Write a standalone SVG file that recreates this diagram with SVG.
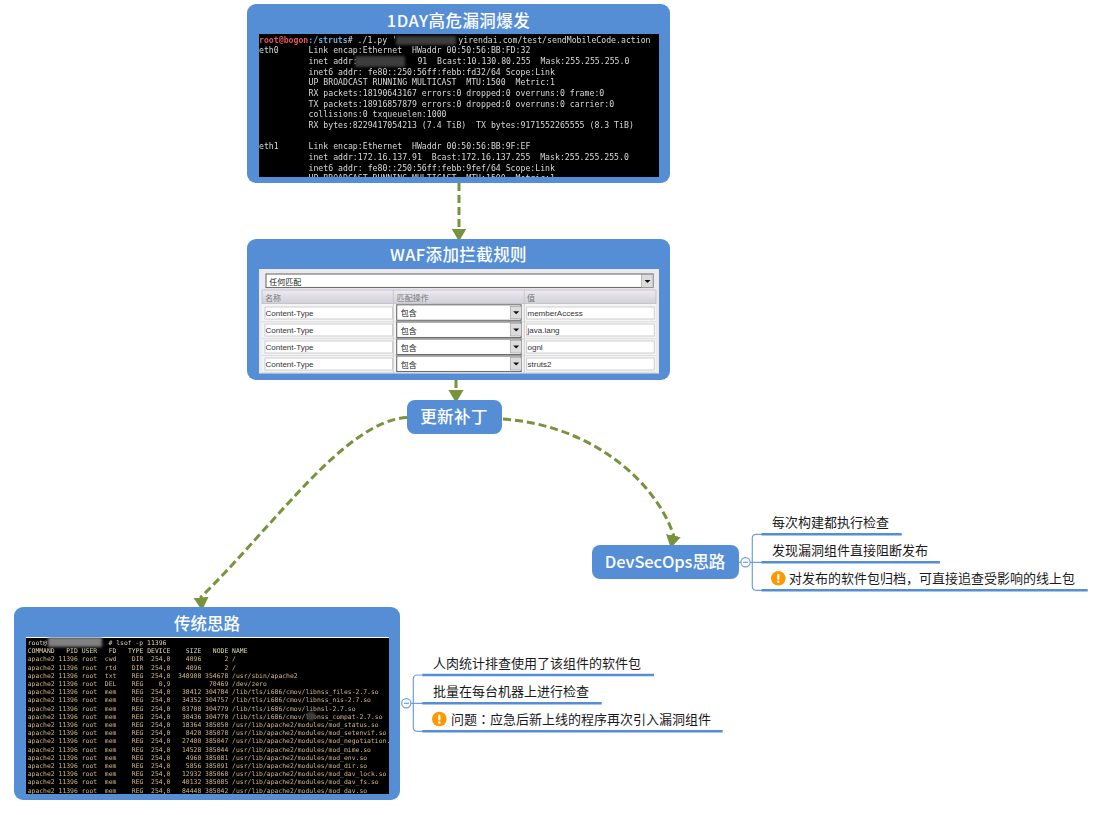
<svg xmlns="http://www.w3.org/2000/svg" width="1103" height="815" viewBox="0 0 1103 815">
<style>
.box{fill:#558ed5}
.title{font-family:"Noto Sans CJK SC","Liberation Sans",sans-serif;font-size:16.5px;font-weight:500;fill:#fff;text-anchor:middle}
.child{font-family:"Noto Sans CJK SC","Liberation Sans",sans-serif;font-size:13px;fill:#1a1a1a}
.ul{stroke:#558ed5;stroke-width:2.6;fill:none}
.br{stroke:#6f9fdc;stroke-width:1.2;fill:none}
.fold{stroke:#6f9fdc;stroke-width:1.2;fill:#fff}
.conn{stroke:#77933c;stroke-width:3;stroke-dasharray:8 4;fill:none;marker-end:url(#arrow)}
.t1{font-family:"DejaVu Sans Mono","Liberation Mono",monospace;font-size:8.2px;fill:#d8d8d8;white-space:pre}
.t2{font-family:"DejaVu Sans Mono","Liberation Mono",monospace;font-size:6.42px;fill:#d2b688;white-space:pre}
.w{font-family:"Liberation Sans","Noto Sans CJK SC",sans-serif;font-size:8px;fill:#333}
.wh{font-family:"Noto Sans CJK SC","Liberation Sans",sans-serif;font-size:8px;fill:#777}
.wc{font-family:"Noto Sans CJK SC","Liberation Sans",sans-serif;font-size:8px;fill:#222}
.inp{fill:#fff;stroke:#c4c4c4;stroke-width:.8}
.sel{fill:#fff;stroke:#6e6e6e;stroke-width:1.1}
.btn{fill:#dcdcdc;stroke:#888;stroke-width:.5}
.tri{fill:#111}
.smear{fill:#3c3c3c;filter:url(#soft)}
.shot{filter:url(#raster)}
</style>
<defs>
<marker id="arrow" markerUnits="userSpaceOnUse" markerWidth="15" markerHeight="16" refX="0.5" refY="7.5" orient="auto">
<path d="M0 0L13 7.5L0 15Z" fill="#77933c"/>
</marker>
<filter id="soft" x="-30%" y="-60%" width="160%" height="220%"><feGaussianBlur stdDeviation="1.6"/></filter>
<filter id="raster" x="0" y="0" width="100%" height="100%"><feGaussianBlur stdDeviation="0.22"/></filter>
<linearGradient id="hd" x1="0" y1="0" x2="0" y2="1"><stop offset="0" stop-color="#efeaf2"/><stop offset="1" stop-color="#cfcfd6"/></linearGradient>
<clipPath id="c1"><rect x="259" y="34" width="400" height="143"/></clipPath>
<clipPath id="c3"><rect x="26" y="637" width="363" height="157"/></clipPath>
<g id="warn"><circle r="7.3" fill="#ff9800"/><rect x="-1.1" y="-4.6" width="2.2" height="6" rx="1" fill="#fff"/><circle cy="3.5" r="1.2" fill="#fff"/></g>
<g id="combo"><rect class="btn" x="113.5" y="1.5" width="11.5" height="12.5"/><path class="tri" d="M116.5 6.5h6l-3 3z"/></g>
</defs>

<g id="connectors">
<path class="conn" d="M459 183V229"/>
<path class="conn" d="M456 380V390.5"/>
<path class="conn" d="M407 417.5C345 421 275 525 201 597L201.08 598"/>
<path class="conn" d="M503 419C590 425 655 480 673.5 535L673.3 536"/>
<path class="br" d="M739 562.3H741"/>
<path class="br" d="M750 562.3H762M762 534.3H756.3Q752.3 534.3 752.3 538.3V586.3Q752.3 590.3 756.3 590.3H762"/>
<path class="br" d="M411 703.3H423M423 675H417.3Q413.3 675 413.3 679V727.3Q413.3 731.3 417.3 731.3H423"/>
</g>

<g id="node-1day">
<rect class="box" x="247" y="4" width="423" height="179" rx="9"/>
<text class="title" x="458.5" y="27" letter-spacing=".45">1DAY高危漏洞爆发</text>
<rect x="259" y="34" width="400" height="143" fill="#000"/>
<g clip-path="url(#c1)"><g class="shot">
<text class="t1" x="259" y="42.8"><tspan fill="#e0565b" font-weight="700">root@bogon</tspan><tspan fill="#6aa9d6" font-weight="700">:/struts</tspan># ./1.py '<tspan x="458.3">yirendai.com/test/sendMobileCode.action</tspan></text>
<text class="t1" x="259" y="53.45">eth0<tspan x="308.5">Link encap:Ethernet  HWaddr 00:50:56:BB:FD:32</tspan></text>
<text class="t1" x="308.5" y="64.1">inet addr:<tspan x="417.4">91  Bcast:10.130.80.255  Mask:255.255.255.0</tspan></text>
<text class="t1" x="308.5" y="74.75">inet6 addr: fe80::250:56ff:febb:fd32/64 Scope:Link</text>
<text class="t1" x="308.5" y="85.4">UP BROADCAST RUNNING MULTICAST  MTU:1500  Metric:1</text>
<text class="t1" x="308.5" y="96.05">RX packets:18190643167 errors:0 dropped:0 overruns:0 frame:0</text>
<text class="t1" x="308.5" y="106.7">TX packets:18916857879 errors:0 dropped:0 overruns:0 carrier:0</text>
<text class="t1" x="308.5" y="117.35">collisions:0 txqueuelen:1000</text>
<text class="t1" x="308.5" y="128">RX bytes:8229417054213 (7.4 TiB)  TX bytes:9171552265555 (8.3 TiB)</text>
<text class="t1" x="259" y="149.3">eth1<tspan x="308.5">Link encap:Ethernet  HWaddr 00:50:56:BB:9F:EF</tspan></text>
<text class="t1" x="308.5" y="159.95">inet addr:172.16.137.91  Bcast:172.16.137.255  Mask:255.255.255.0</text>
<text class="t1" x="308.5" y="170.6">inet6 addr: fe80::250:56ff:febb:9fef/64 Scope:Link</text>
<text class="t1" x="308.5" y="181.25">UP BROADCAST RUNNING MULTICAST  MTU:1500  Metric:1</text>
</g>
<rect class="smear" x="396" y="36" width="60" height="9"/>
<rect class="smear" x="355" y="56" width="50" height="11"/>
</g>
</g>

<g id="node-waf">
<rect class="box" x="247" y="239" width="423" height="141" rx="9"/>
<text class="title" x="458.5" y="261" letter-spacing=".4">WAF添加拦截规则</text>
<rect x="259" y="269" width="400" height="104.5" fill="#ede9f1"/>
<rect class="sel" x="266" y="274" width="387" height="13.5"/>
<rect class="btn" x="641.5" y="274.5" width="11.5" height="13"/><path class="tri" d="M644.5 280h6l-3 3z"/>
<text class="wc" x="269.3" y="284.5">任何匹配</text>
<rect x="262" y="290" width="394" height="14" fill="url(#hd)" stroke="#b5b5bd" stroke-width=".7"/>
<path d="M393.3 290V373M524.3 290V373" stroke="#c2c2c8" stroke-width=".8"/>
<text class="wh" x="265" y="301">名称</text>
<text class="wh" x="396.7" y="301">匹配操作</text>
<text class="wh" x="527" y="301">值</text>
<rect x="262" y="304" width="394" height="68.5" fill="#f4f4f4"/>
<path d="M393.3 304V372.5M524.3 304V372.5" stroke="#c2c2c8" stroke-width=".8"/>
<path d="M262 321.7H656M262 338.7H656M262 355.5H656M262 372.3H656" stroke="#d6d6da" stroke-width=".8"/>

<rect class="inp" x="265" y="307" width="127.5" height="12"/><text class="w" x="265.5" y="316">Content-Type</text>
<g transform="translate(396.7 304.8)"><rect class="sel" width="124.5" height="15.5"/><use href="#combo"/><text class="wc" x="4" y="11.5">包含</text></g>
<rect class="inp" x="526.7" y="307" width="127.5" height="12"/><text class="w" x="527.5" y="316">memberAccess</text>

<rect class="inp" x="265" y="324" width="127.5" height="12"/><text class="w" x="265.5" y="333">Content-Type</text>
<g transform="translate(396.7 322)"><rect class="sel" width="124.5" height="15.5"/><use href="#combo"/><text class="wc" x="4" y="11.5">包含</text></g>
<rect class="inp" x="526.7" y="324" width="127.5" height="12"/><text class="w" x="527.5" y="333">java.lang</text>

<rect class="inp" x="265" y="341" width="127.5" height="12"/><text class="w" x="265.5" y="350">Content-Type</text>
<g transform="translate(396.7 339)"><rect class="sel" width="124.5" height="15.5"/><use href="#combo"/><text class="wc" x="4" y="11.5">包含</text></g>
<rect class="inp" x="526.7" y="341" width="127.5" height="12"/><text class="w" x="527.5" y="350">ognl</text>

<rect class="inp" x="265" y="358" width="127.5" height="12"/><text class="w" x="265.5" y="367">Content-Type</text>
<g transform="translate(396.7 356)"><rect class="sel" width="124.5" height="15.5"/><use href="#combo"/><text class="wc" x="4" y="11.5">包含</text></g>
<rect class="inp" x="526.7" y="358" width="127.5" height="12"/><text class="w" x="527.5" y="367">struts2</text>
</g>

<g id="node-patch">
<rect class="box" x="407" y="400" width="95" height="34" rx="8"/>
<text class="title" x="454" y="423" letter-spacing=".4">更新补丁</text>
</g>

<g id="node-devsecops">
<rect class="box" x="592" y="545" width="147" height="34" rx="8"/>
<text class="title" x="665" y="568" letter-spacing="-.1">DevSecOps思路</text>
<circle class="fold" cx="745.5" cy="562.3" r="4.6"/><path class="br" d="M743 562.3H748"/>
</g>
<g id="dev-child-1"><text class="child" x="772" y="527">每次构建都执行检查</text><path class="ul" d="M761.5 534.3H901.7"/></g>
<g id="dev-child-2"><text class="child" x="772" y="555">发现漏洞组件直接阻断发布</text><path class="ul" d="M761.5 562.3H940"/></g>
<g id="dev-child-3"><use href="#warn" x="778.3" y="578.3"/><text class="child" x="789" y="583">对发布的软件包归档，可直接追查受影响的线上包</text><path class="ul" d="M761.5 590.3H1087.7"/></g>

<g id="node-traditional">
<rect class="box" x="14" y="607" width="386" height="193" rx="9"/>
<text class="title" x="207" y="630">传统思路</text>
<rect x="26" y="637" width="363" height="157" fill="#000"/>
<g clip-path="url(#c3)"><g class="shot">
<path d="M26 637.4H389" stroke="#fff" stroke-width="1.2"/>
<text class="t2" x="27.7" y="645" style="fill:#d8d0c0">root@<tspan x="108.5"># lsof -p 11396</tspan></text>
<text class="t2" x="27.7" y="653.2" style="fill:#e4d6b4">COMMAND   PID USER   FD   TYPE DEVICE    SIZE   NODE NAME</text>
<text class="t2" x="27.7" y="661.4">apache2 11396 root  cwd    DIR  254,0    4096      2 /</text>
<text class="t2" x="27.7" y="669.6">apache2 11396 root  rtd    DIR  254,0    4096      2 /</text>
<text class="t2" x="27.7" y="677.8">apache2 11396 root  txt    REG  254,0  348908 354678 /usr/sbin/apache2</text>
<text class="t2" x="27.7" y="686">apache2 11396 root  DEL    REG    0,9          70469 /dev/zero</text>
<text class="t2" x="27.7" y="694.2">apache2 11396 root  mem    REG  254,0   38412 304784 /lib/tls/i686/cmov/libnss_files-2.7.so</text>
<text class="t2" x="27.7" y="702.4">apache2 11396 root  mem    REG  254,0   34352 304757 /lib/tls/i686/cmov/libnss_nis-2.7.so</text>
<text class="t2" x="27.7" y="710.6">apache2 11396 root  mem    REG  254,0   83708 304779 /lib/tls/i686/cmov/libnsl-2.7.so</text>
<text class="t2" x="27.7" y="718.8">apache2 11396 root  mem    REG  254,0   30436 304770 /lib/tls/i686/cmov/libnss_compat-2.7.so</text>
<text class="t2" x="27.7" y="727">apache2 11396 root  mem    REG  254,0   18364 385050 /usr/lib/apache2/modules/mod_status.so</text>
<text class="t2" x="27.7" y="735.2">apache2 11396 root  mem    REG  254,0    8420 385078 /usr/lib/apache2/modules/mod_setenvif.so</text>
<text class="t2" x="27.7" y="743.4">apache2 11396 root  mem    REG  254,0   27400 385047 /usr/lib/apache2/modules/mod_negotiation.so</text>
<text class="t2" x="27.7" y="751.6">apache2 11396 root  mem    REG  254,0   14528 385044 /usr/lib/apache2/modules/mod_mime.so</text>
<text class="t2" x="27.7" y="759.8">apache2 11396 root  mem    REG  254,0    4960 385081 /usr/lib/apache2/modules/mod_env.so</text>
<text class="t2" x="27.7" y="768">apache2 11396 root  mem    REG  254,0    5856 385091 /usr/lib/apache2/modules/mod_dir.so</text>
<text class="t2" x="27.7" y="776.2">apache2 11396 root  mem    REG  254,0   12932 385068 /usr/lib/apache2/modules/mod_dav_lock.so</text>
<text class="t2" x="27.7" y="784.4">apache2 11396 root  mem    REG  254,0   40132 385085 /usr/lib/apache2/modules/mod_dav_fs.so</text>
<text class="t2" x="27.7" y="792.6">apache2 11396 root  mem    REG  254,0   84448 385042 /usr/lib/apache2/modules/mod_dav.so</text>
</g>
<rect class="smear" x="48" y="637" width="54" height="10" style="fill:#808080"/>
<circle class="smear" cx="311" cy="716" r="4.5"/>
</g>
</g>
<g id="fold-traditional"><circle class="fold" cx="406.3" cy="703.3" r="4.6"/><path class="br" d="M404 703.3H409"/></g>
<g id="trad-child-1"><text class="child" x="433" y="668">人肉统计排查使用了该组件的软件包</text><path class="ul" d="M422.3 675H654"/></g>
<g id="trad-child-2"><text class="child" x="433" y="696">批量在每台机器上进行检查</text><path class="ul" d="M422.3 703.3H601.7"/></g>
<g id="trad-child-3"><use href="#warn" x="439.3" y="719"/><text class="child" x="451" y="724">问题<tspan font-family="Noto Sans CJK TC">：</tspan>应急后新上线的程序再次引入漏洞组件</text><path class="ul" d="M422.3 731.3H722.7"/></g>
</svg>
